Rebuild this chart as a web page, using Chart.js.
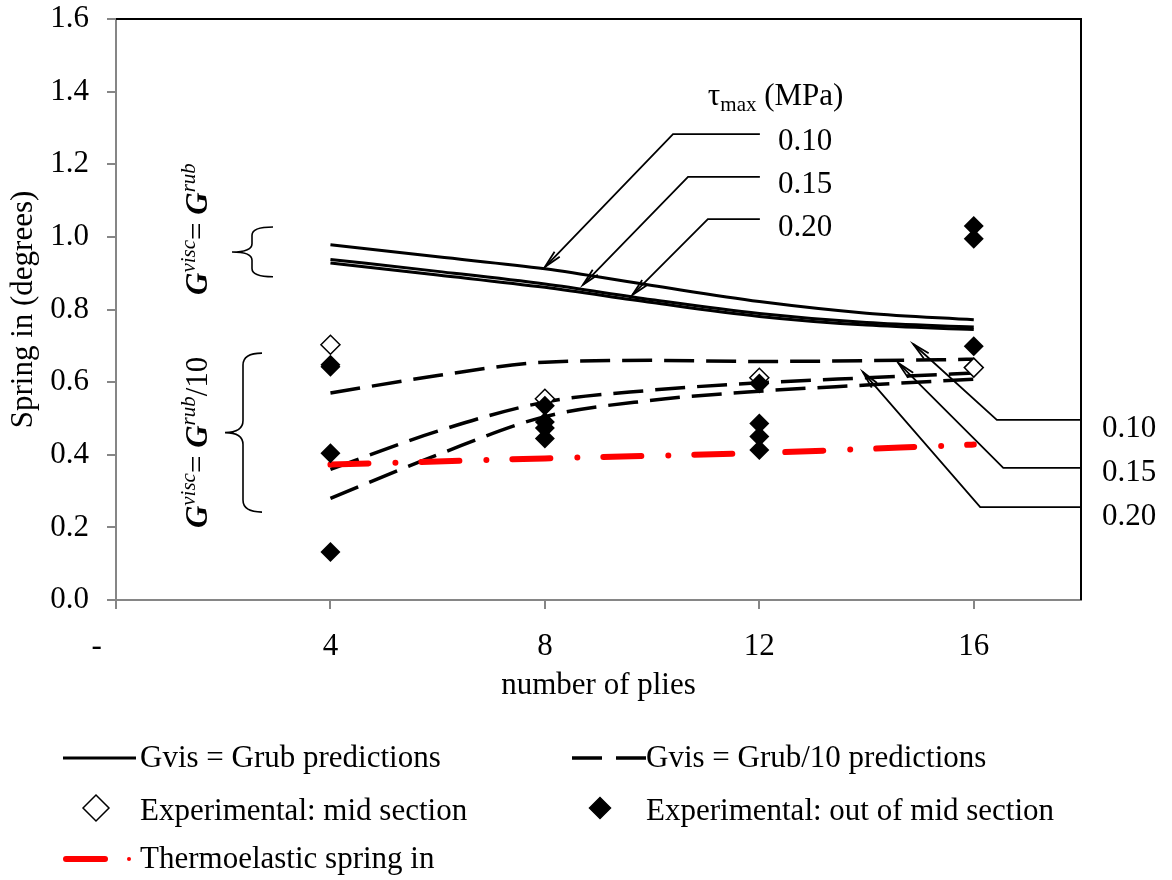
<!DOCTYPE html>
<html>
<head>
<meta charset="utf-8">
<script src="https://cdn.jsdelivr.net/npm/chart.js@4.4.0/dist/chart.umd.min.js"></script>
<style>
  html, body { margin: 0; padding: 0; background: #fff; }
  #wrap { width: 1172px; height: 880px; }
</style>
</head>
<body>
<div id="wrap"><canvas id="springChart" width="1172" height="880"></canvas></div>
<script>
// Spring in vs number of plies

const FONT = "'Liberation Serif', 'Times New Roman', serif";

// axis ticks
const xTickValues = [0, 4, 8, 12, 16];
const xTickLabels = ["-     ", "4", "8", "12", "16"];
const yTickValues = [0, 0.2, 0.4, 0.6, 0.8, 1.0, 1.2, 1.4, 1.6];
const yTickLabels = ["0.0", "0.2", "0.4", "0.6", "0.8", "1.0", "1.2", "1.4", "1.6"];

// prediction curves (x = number of plies)
const curvePlies = [4, 6, 8, 10, 12, 14, 16];
const rubTau010 = [0.978, 0.945, 0.912, 0.866, 0.822, 0.790, 0.772];
const rubTau015 = [0.938, 0.905, 0.870, 0.827, 0.789, 0.764, 0.752];
const rubTau020 = [0.928, 0.895, 0.861, 0.819, 0.781, 0.757, 0.745];
const rub10Tau010 = [0.570, 0.618, 0.655, 0.660, 0.657, 0.659, 0.663];
const rub10Tau015 = [0.360, 0.465, 0.545, 0.578, 0.598, 0.612, 0.625];
const rub10Tau020 = [0.280, 0.400, 0.505, 0.550, 0.575, 0.592, 0.608];

// thermoelastic spring in
const thermoPlies = [4, 8, 12, 16];
const thermoSpring = [0.373, 0.390, 0.405, 0.428];

// experiments
const midPlies = [4, 8, 12, 16];
const midSpring = [0.703, 0.554, 0.612, 0.640];
const outPlies = [4, 4, 4, 4, 8, 8, 8, 8, 12, 12, 12, 12, 16, 16, 16];
const outSpring = [0.648, 0.642, 0.404, 0.132, 0.535, 0.490, 0.474, 0.445,
                   0.596, 0.486, 0.450, 0.413, 1.030, 0.995, 0.699];

function toPoints(xs, ys) {
  return xs.map(function (x, i) { return { x: x, y: ys[i] }; });
}

function curve(xs, ys, dash) {
  return {
    data: toPoints(xs, ys),
    showLine: true,
    borderColor: "#000",
    borderWidth: dash ? 3.5 : 3,
    borderDash: dash ? [30, 12] : [],
    pointRadius: 0,
    cubicInterpolationMode: "monotone",
    fill: false,
  };
}

// draw a string made of several font runs
function drawRuns(ctx, runs, x, y) {
  let cx = x;
  runs.forEach(function (r) {
    ctx.font = r.font;
    ctx.fillText(r.text, cx, y + (r.dy || 0));
    cx += ctx.measureText(r.text).width;
  });
}

function drawArrow(ctx, pts) {
  // pts: polyline, last point is the arrow tip
  ctx.beginPath();
  ctx.moveTo(pts[0][0], pts[0][1]);
  for (let i = 1; i < pts.length; i++) ctx.lineTo(pts[i][0], pts[i][1]);
  ctx.stroke();
  const p = pts[pts.length - 2], t = pts[pts.length - 1];
  const ang = Math.atan2(t[1] - p[1], t[0] - p[0]);
  const len = 18, spread = 0.2;
  ctx.beginPath();
  ctx.moveTo(t[0] - len * Math.cos(ang - spread), t[1] - len * Math.sin(ang - spread));
  ctx.lineTo(t[0], t[1]);
  ctx.lineTo(t[0] - len * Math.cos(ang + spread), t[1] - len * Math.sin(ang + spread));
  ctx.stroke();
}

function drawBrace(ctx, xTip, xStem, xEnd, yTop, yBot) {
  const yMid = (yTop + yBot) / 2;
  const r = Math.min(12, (yBot - yTop) / 6);
  ctx.beginPath();
  ctx.moveTo(xEnd, yTop);
  ctx.quadraticCurveTo(xStem, yTop, xStem, yTop + r);
  ctx.lineTo(xStem, yMid - r);
  ctx.quadraticCurveTo(xStem, yMid, xTip, yMid);
  ctx.quadraticCurveTo(xStem, yMid, xStem, yMid + r);
  ctx.lineTo(xStem, yBot - r);
  ctx.quadraticCurveTo(xStem, yBot, xEnd, yBot);
  ctx.stroke();
}

function diamond(ctx, x, y, r, fill) {
  ctx.beginPath();
  ctx.moveTo(x - r, y);
  ctx.lineTo(x, y - r);
  ctx.lineTo(x + r, y);
  ctx.lineTo(x, y + r);
  ctx.closePath();
  ctx.fillStyle = fill;
  ctx.fill();
  ctx.stroke();
}

// tau labels and leader lines, in data units
const topNotes = [
  { label: "0.10", tip: [8.0, 0.917], elbow: [10.39, 1.283], textY: 1.239 },
  { label: "0.15", tip: [8.71, 0.868], elbow: [10.67, 1.165], textY: 1.121 },
  { label: "0.20", tip: [9.63, 0.840], elbow: [11.04, 1.049], textY: 1.002 },
];
const rightNotes = [
  { label: "0.10", tip: [14.87, 0.705], elbow: [16.43, 0.496], textY: 0.449 },
  { label: "0.15", tip: [14.59, 0.653], elbow: [16.55, 0.364], textY: 0.328 },
  { label: "0.20", tip: [13.93, 0.628], elbow: [16.12, 0.256], textY: 0.207 },
];

const decorPlugin = {
  id: "decor",
  afterDraw(chart) {
    const ctx = chart.ctx;
    const a = chart.chartArea;
    const px = function (v) { return chart.scales.x.getPixelForValue(v); };
    const py = function (v) { return chart.scales.y.getPixelForValue(v); };
    ctx.save();

    // frame: top and right
    ctx.strokeStyle = "#000";
    ctx.lineWidth = 2;
    ctx.beginPath();
    ctx.moveTo(a.left, a.top);
    ctx.lineTo(a.right, a.top);
    ctx.lineTo(a.right, a.bottom);
    ctx.stroke();

    // leader lines
    ctx.lineWidth = 1.8;
    ctx.fillStyle = "#000";
    ctx.textBaseline = "alphabetic";
    topNotes.forEach(function (n) {
      const ey = py(n.elbow[1]);
      drawArrow(ctx, [[px(12.01), ey], [px(n.elbow[0]), ey], [px(n.tip[0]), py(n.tip[1])]]);
      ctx.font = "31px " + FONT;
      ctx.fillText(n.label, px(12.35), py(n.textY));
    });
    rightNotes.forEach(function (n) {
      const ey = py(n.elbow[1]);
      drawArrow(ctx, [[a.right, ey], [px(n.elbow[0]), ey], [px(n.tip[0]), py(n.tip[1])]]);
      ctx.font = "31px " + FONT;
      ctx.fillText(n.label, a.right + 21, py(n.textY));
    });

    // tau_max heading
    drawRuns(ctx, [
      { text: "\u03c4", font: "31px " + FONT },
      { text: "max", font: "21px " + FONT, dy: 6 },
      { text: " (MPa)", font: "31px " + FONT },
    ], px(11.04), py(1.363));

    // braces
    ctx.lineWidth = 1.6;
    drawBrace(ctx, 232, 252, 273, py(1.027), py(0.890));
    drawBrace(ctx, 225, 243, 262, py(0.680), py(0.242));

    // rotated G labels
    const gRuns = [
      { text: "G", font: "italic bold 31px " + FONT },
      { text: "visc", font: "italic 21px " + FONT, dy: -12 },
      { text: "= ", font: "31px " + FONT },
      { text: "G", font: "italic bold 31px " + FONT },
      { text: "rub", font: "italic 21px " + FONT, dy: -12 },
    ];
    ctx.save();
    ctx.translate(207, py(0.840));
    ctx.rotate(-Math.PI / 2);
    drawRuns(ctx, gRuns, 0, 0);
    ctx.restore();
    ctx.save();
    ctx.translate(207, py(0.198));
    ctx.rotate(-Math.PI / 2);
    drawRuns(ctx, gRuns.concat([{ text: "/10", font: "31px " + FONT }]), 0, 0);
    ctx.restore();

    // legend
    const ds = chart.data.datasets;
    ctx.font = "31px " + FONT;
    ctx.fillStyle = "#000";
    // row 1
    ctx.strokeStyle = "#000";
    ctx.lineWidth = 3;
    ctx.setLineDash([]);
    ctx.beginPath(); ctx.moveTo(63, 758); ctx.lineTo(136, 758); ctx.stroke();
    ctx.fillText(ds[3].label, 140, 767);
    ctx.lineWidth = 3.5;
    ctx.setLineDash([30, 14]);
    ctx.beginPath(); ctx.moveTo(572, 758); ctx.lineTo(646, 758); ctx.stroke();
    ctx.setLineDash([]);
    ctx.fillText(ds[6].label, 646, 767);
    // row 2
    ctx.lineWidth = 1.5;
    diamond(ctx, 96, 808, 13, "#fff");
    diamond(ctx, 600, 808, 10.5, "#000");
    ctx.fillStyle = "#000";
    ctx.fillText(ds[1].label, 140, 820);
    ctx.fillText(ds[0].label, 646, 820);
    // row 3
    ctx.strokeStyle = "#ff0000";
    ctx.lineWidth = 6;
    ctx.lineCap = "round";
    ctx.beginPath(); ctx.moveTo(66, 859); ctx.lineTo(105, 859); ctx.stroke();
    ctx.beginPath(); ctx.moveTo(129, 859); ctx.lineTo(129.01, 859); ctx.lineWidth = 4; ctx.stroke();
    ctx.fillText(ds[2].label, 140, 868);

    ctx.restore();
  },
};

document.addEventListener("DOMContentLoaded", function () {
  const ctx = document.getElementById("springChart").getContext("2d");

  const solid010 = curve(curvePlies, rubTau010, false);
  solid010.label = "Gvis = Grub predictions";
  const dash010 = curve(curvePlies, rub10Tau010, true);
  dash010.label = "Gvis = Grub/10 predictions";

  new Chart(ctx, {
    type: "scatter",
    data: {
      datasets: [
        {
          label: "Experimental: out of mid section",
          data: toPoints(outPlies, outSpring),
          pointStyle: "rectRot",
          pointRadius: 10,
          pointBackgroundColor: "#000",
          pointBorderColor: "#000",
          pointBorderWidth: 0,
        },
        {
          label: "Experimental: mid section",
          data: toPoints(midPlies, midSpring),
          pointStyle: "rectRot",
          pointRadius: 9.5,
          pointBackgroundColor: "#fff",
          pointBorderColor: "#000",
          pointBorderWidth: 1.5,
        },
        {
          label: "Thermoelastic spring in",
          data: toPoints(thermoPlies, thermoSpring),
          showLine: true,
          borderColor: "#ff0000",
          borderWidth: 6,
          borderDash: [38, 27, 0, 26],
          borderCapStyle: "round",
          pointRadius: 0,
          cubicInterpolationMode: "monotone",
        },
        solid010,
        curve(curvePlies, rubTau015, false),
        curve(curvePlies, rubTau020, false),
        dash010,
        curve(curvePlies, rub10Tau015, true),
        curve(curvePlies, rub10Tau020, true),
      ],
    },
    options: {
      responsive: false,
      animation: false,
      devicePixelRatio: 1,
      layout: { padding: { left: 0, right: 91, top: 19, bottom: 176 } },
      plugins: {
        legend: { display: false },
        tooltip: { enabled: false },
      },
      scales: {
        x: {
          type: "linear",
          min: 0,
          max: 18,
          afterBuildTicks: function (scale) {
            scale.ticks = xTickValues.map(function (v) { return { value: v }; });
          },
          afterFit: function (scale) {
            scale.height = 104;
            scale.paddingLeft = 0;
            scale.paddingRight = 0;
          },
          grid: { drawOnChartArea: false, tickLength: 9, color: "#868686", lineWidth: 2 },
          border: { color: "#868686", width: 2 },
          ticks: {
            padding: 19,
            color: "#000",
            maxRotation: 0,
            autoSkip: false,
            font: { family: FONT, size: 31 },
            callback: function (value, index) { return xTickLabels[index]; },
          },
          title: {
            display: true,
            text: "number of plies",
            color: "#000",
            font: { family: FONT, size: 31 },
            padding: { top: 0, bottom: 0 },
          },
        },
        y: {
          min: 0,
          max: 1.6,
          afterBuildTicks: function (scale) {
            scale.ticks = yTickValues.map(function (v) { return { value: v }; });
          },
          afterFit: function (scale) {
            scale.width = 116;
            scale.paddingTop = 0;
            scale.paddingBottom = 0;
          },
          grid: { drawOnChartArea: false, tickLength: 9, color: "#868686", lineWidth: 2 },
          border: { color: "#868686", width: 2 },
          ticks: {
            padding: 18,
            color: "#000",
            font: { family: FONT, size: 31 },
            callback: function (value, index) { return yTickLabels[index]; },
          },
          title: {
            display: true,
            text: "Spring in (degrees)",
            color: "#000",
            font: { family: FONT, size: 31 },
            padding: { top: 5, bottom: 0 },
          },
        },
      },
    },
    plugins: [decorPlugin],
  });
});
</script>
</body>
</html>
